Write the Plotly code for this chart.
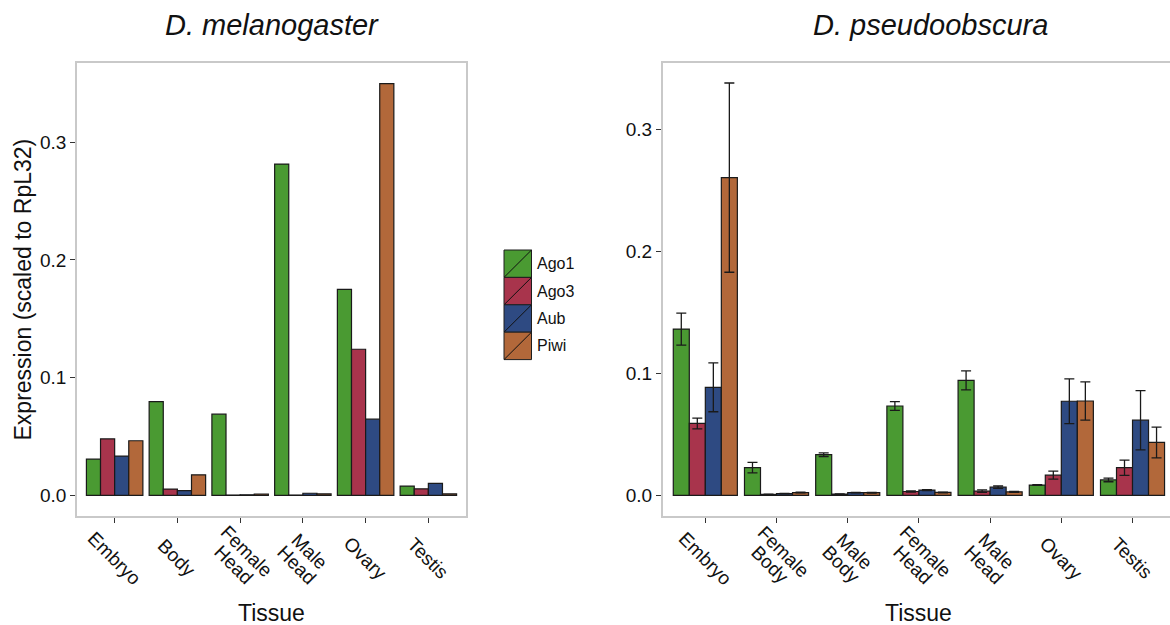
import plotly.graph_objects as go

# ---- data -------------------------------------------------------------
genes = ["Ago1", "Ago3", "Aub", "Piwi"]
gene_colors = ["#4a9a32", "#a8344c", "#2e4a82", "#b2683a"]

# D. melanogaster (single measurements)
mel_tissues = ["Embryo", "Body", "Female Head", "Male Head", "Ovary", "Testis"]
mel_ago1 = [0.0308, 0.0797, 0.0690, 0.2814, 0.1749, 0.0079]
mel_ago3 = [0.0480, 0.0054, 0.0003, 0.0003, 0.1241, 0.0056]
mel_aub = [0.0334, 0.0040, 0.0005, 0.0018, 0.0647, 0.0102]
mel_piwi = [0.0464, 0.0175, 0.0012, 0.0013, 0.3497, 0.0013]

# D. pseudoobscura (mean and standard error)
pse_tissues = ["Embryo", "Female Body", "Male Body", "Female Head",
               "Male Head", "Ovary", "Testis"]
pse_ago1 = [0.1364, 0.0227, 0.0334, 0.0733, 0.0943, 0.0085, 0.0127]
pse_ago1_se = [0.0131, 0.0043, 0.0015, 0.0036, 0.0078, 0.0003, 0.0015]
pse_ago3 = [0.0590, 0.0008, 0.0011, 0.0032, 0.0035, 0.0166, 0.0227]
pse_ago3_se = [0.0044, 0.0002, 0.0002, 0.0005, 0.0010, 0.0033, 0.0063]
pse_aub = [0.0886, 0.0015, 0.0022, 0.0044, 0.0067, 0.0772, 0.0617]
pse_aub_se = [0.0200, 0.0002, 0.0002, 0.0004, 0.0010, 0.0184, 0.0243]
pse_piwi = [0.2606, 0.0023, 0.0022, 0.0024, 0.0029, 0.0774, 0.0434]
pse_piwi_se = [0.0776, 0.0003, 0.0003, 0.0003, 0.0004, 0.0157, 0.0126]

y_ticks = [0.0, 0.1, 0.2, 0.3]
y_ticktext = ["0.0", "0.1", "0.2", "0.3"]

# ---- figure geometry (pixels) ----------------------------------------
W, H = 1170, 625
FONT = "Liberation Sans, Arial, Helvetica, sans-serif"


def px(x):
    return x / W


def py(y):
    return 1 - y / H


fig = go.Figure()

outline = dict(color="#1a1a1a", width=1.2)

mel_series = [mel_ago1, mel_ago3, mel_aub, mel_piwi]
for g, c, vals in zip(genes, gene_colors, mel_series):
    fig.add_trace(go.Bar(
        x=mel_tissues, y=vals, name=g, marker=dict(color=c, line=outline),
        xaxis="x", yaxis="y", offsetgroup=g, showlegend=False,
    ))

pse_series = [(pse_ago1, pse_ago1_se), (pse_ago3, pse_ago3_se),
              (pse_aub, pse_aub_se), (pse_piwi, pse_piwi_se)]
for g, c, (vals, se) in zip(genes, gene_colors, pse_series):
    fig.add_trace(go.Bar(
        x=pse_tissues, y=vals, name=g, marker=dict(color=c, line=outline),
        error_y=dict(type="data", array=se, visible=True,
                     color="#1a1a1a", thickness=1.3, width=5),
        xaxis="x2", yaxis="y2", offsetgroup=g, showlegend=False,
    ))

frame_col = "#c9c9c9"
tick_font = dict(family=FONT, size=19, color="#111111")

common_x = dict(
    type="category", showticklabels=False, ticks="outside", ticklen=5,
    tickcolor="#333333", tickwidth=1, showgrid=False, zeroline=False,
    showline=True, mirror=True, linecolor=frame_col, linewidth=1.5,
)
common_y = dict(
    tickvals=y_ticks, ticktext=y_ticktext, ticks="outside", ticklen=5,
    tickcolor="#333333", tickwidth=1, tickfont=tick_font, showgrid=False,
    zeroline=False, showline=True, linecolor=frame_col, linewidth=1.5,
)

plot_top, plot_bottom = 63, 516
left_x0, left_x1 = 77, 466
right_x0 = 662.6
right_step = 71.2
right_range_max = (W - right_x0) / right_step - 0.6

fig.update_layout(
    width=W, height=H,
    margin=dict(l=0, r=0, t=0, b=0),
    paper_bgcolor="white", plot_bgcolor="white",
    barmode="group", bargap=0.1, bargroupgap=0,
    font=dict(family=FONT, color="#111111"),
    xaxis=dict(domain=[px(left_x0), px(left_x1)], range=[-0.6, 5.6],
               anchor="y", **common_x),
    yaxis=dict(domain=[py(plot_bottom), py(plot_top)],
               range=[-0.0175, 0.3672], anchor="x", mirror=True, **common_y),
    xaxis2=dict(domain=[px(right_x0), 1.0], range=[-0.6, right_range_max],
                anchor="y2", **common_x),
    yaxis2=dict(domain=[py(plot_bottom), py(plot_top)],
                range=[-0.0169, 0.3546], anchor="x2", mirror=False,
                **common_y),
)

annotations = []

# category labels: rotated 45 degrees, centred under each tick, with the
# lines of two-word names stacked tightly across the text direction
label_y = py(558)
line_h = 19.0
diag = 0.7071
for axis, tissues in (("x", mel_tissues), ("x2", pse_tissues)):
    for t in tissues:
        words = t.split(" ")
        mid = (len(words) - 1) / 2
        for i, w in enumerate(words):
            off = (i - mid) * line_h * diag
            annotations.append(dict(
                x=t, xref=axis, y=label_y, yref="paper",
                text=w, showarrow=False, textangle=45,
                xanchor="center", yanchor="middle",
                xshift=-off, yshift=-off,
                font=tick_font,
            ))

# axis titles
for cx in (271.5, 918):
    annotations.append(dict(
        x=px(cx), y=py(613), xref="paper", yref="paper", text="Tissue",
        showarrow=False, xanchor="center", yanchor="middle",
        font=dict(family=FONT, size=23, color="#111111"),
    ))
annotations.append(dict(
    x=px(22), y=py(289.5), xref="paper", yref="paper",
    text="Expression (scaled to RpL32)", textangle=-90, showarrow=False,
    xanchor="center", yanchor="middle",
    font=dict(family=FONT, size=23, color="#111111"),
))

# panel titles
for cx, title in ((272, "D. melanogaster"), (930, "D. pseudoobscura")):
    annotations.append(dict(
        x=px(cx), y=py(25), xref="paper", yref="paper",
        text=f"<i>{title}</i>", showarrow=False, xanchor="center",
        yanchor="middle", font=dict(family=FONT, size=29, color="#111111"),
    ))

# legend: filled keys with a diagonal stroke, labels to the right
shapes = []
key_x0, key_x1 = 504, 531.5
key_top, key_h = 250, 27.4
for i, (g, c) in enumerate(zip(genes, gene_colors)):
    y0 = key_top + i * key_h
    y1 = y0 + key_h
    shapes.append(dict(
        type="rect", xref="paper", yref="paper",
        x0=px(key_x0), x1=px(key_x1), y0=py(y1), y1=py(y0),
        fillcolor=c, line=dict(color="#1e1e1e", width=1),
    ))
    shapes.append(dict(
        type="line", xref="paper", yref="paper",
        x0=px(key_x0), y0=py(y1), x1=px(key_x1), y1=py(y0),
        line=dict(color="#111111", width=1),
    ))
    annotations.append(dict(
        x=px(535), y=py((y0 + y1) / 2), xref="paper", yref="paper",
        text=g, showarrow=False, xanchor="left", yanchor="middle",
        font=dict(family=FONT, size=16, color="#111111"),
    ))

fig.update_layout(annotations=annotations, shapes=shapes)

fig.write_html("out.html")
